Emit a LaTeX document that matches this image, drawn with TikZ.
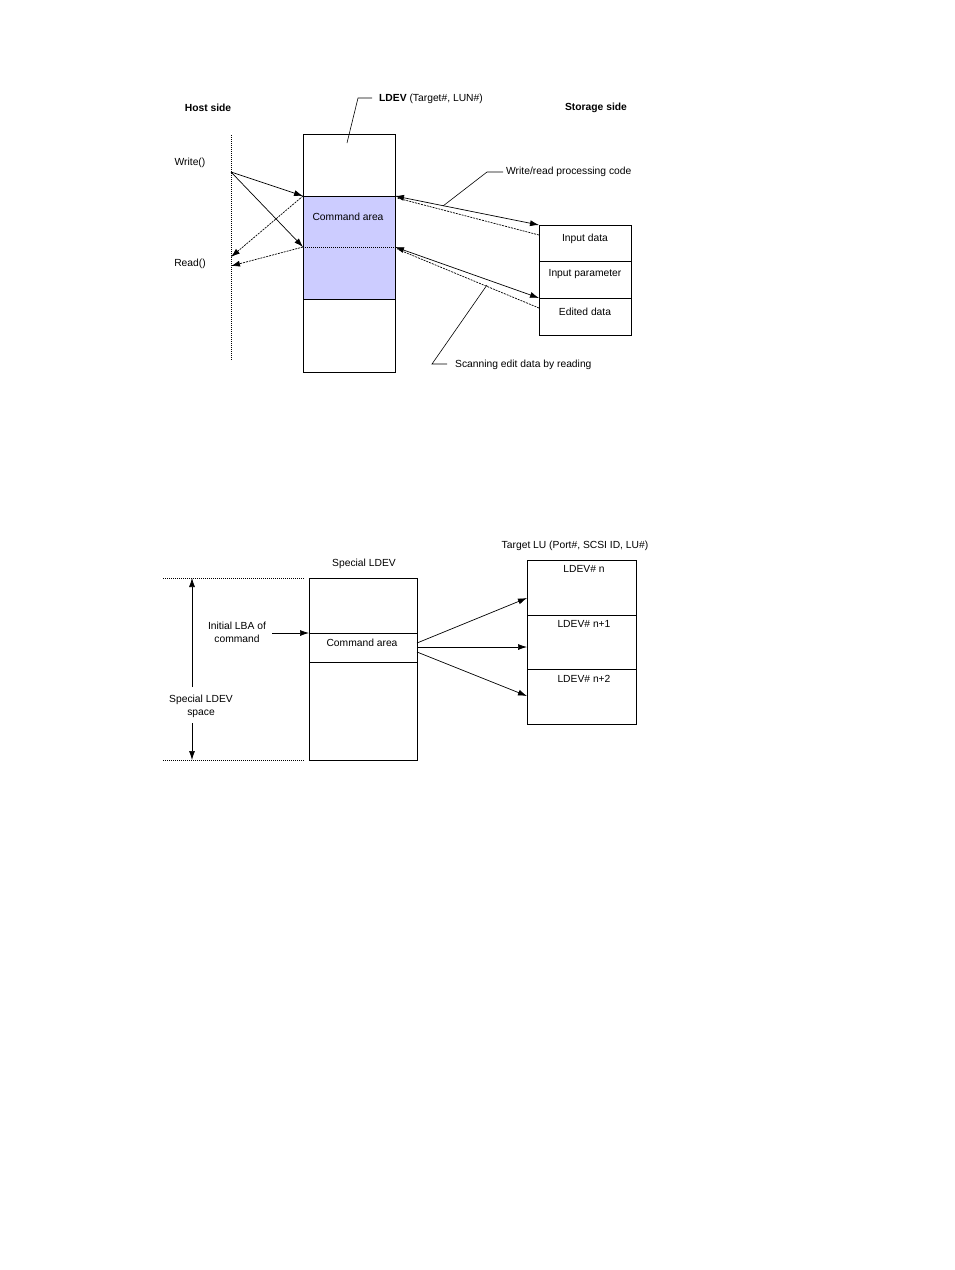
\documentclass[tikz,border=0pt]{standalone}
\usepackage{fontspec}
\setmainfont{Liberation Sans}
\usetikzlibrary{arrows.meta}
\definecolor{cmdfill}{RGB}{204,204,255}
\begin{document}
\begin{tikzpicture}[x=1pt,y=-1pt,
  lbl/.style={font=\fontsize{10.3}{13}\selectfont,inner sep=0pt,yshift=-1.5pt},
  boldlbl/.style={font=\fontsize{10.3}{13}\selectfont\bfseries,inner sep=0pt,yshift=-1.5pt},
  boxline/.style={draw=black,line width=0.8pt},
  tip/.style={-{Latex[length=9pt,width=6pt]}},
  arr/.style={line width=0.7pt,tip},
  darr/.style={line width=0.7pt,{Latex[length=9pt,width=6pt]}-{Latex[length=9pt,width=6pt]}},
  dashln/.style={line width=0.7pt,dash pattern=on 2pt off 1pt},
  dotl/.style={line width=0.7pt,dash pattern=on 1pt off 1pt},
  leader/.style={line width=0.6pt}]
\useasboundingbox (0,0) rectangle (954,1270);
\fill[white] (0,0) rectangle (954,1270);

% ---------- Top diagram ----------
\node[boldlbl] (host) at (208,106) {Host side};
\node[boldlbl] (stor) at (596,106) {Storage side};
\node[lbl,anchor=west] (ldevlbl) at (379,97) {\textbf{LDEV} (Target\#, LUN\#)};
\draw[dotl] (231,135) coordinate (hl1) -- (231,360) coordinate (hl2);
\node[lbl] (write) at (190,161) {Write()};
\node[lbl] (read) at (190,262) {Read()};

% LDEV box
\fill[cmdfill] (303,196) rectangle (395,299);
\draw[boxline] (303,134) rectangle (395,372);
\draw[boxline] (303,196) -- (395,196);
\draw[boxline] (303,299) -- (395,299);
\draw[dotl] (303,247) -- (395,247);
\node[lbl] (cmd) at (348,215) {Command area};
\coordinate (c1l) at (303,196);
\coordinate (c2l) at (303,247);
\coordinate (c1r) at (395,196);
\coordinate (c2r) at (395,247);

% leader for LDEV label
\draw[leader] (372,98) -- (358,98) -- (347,143);

% host arrows
\coordinate (wsrc) at (231,172);
\coordinate (r1) at (231,257);
\coordinate (r2) at (231,266);
\draw[arr] (wsrc) -- (c1l);
\draw[arr] (wsrc) -- (c2l);
\draw[dashln,tip] (c1l) -- (r1);
\draw[dashln,tip] (c2l) -- (r2);

% storage box
\draw[boxline] (539,225) rectangle (631,335);
\draw[boxline] (539,261) -- (631,261);
\draw[boxline] (539,298) -- (631,298);
\node[lbl] (indata) at (585,237) {Input data};
\node[lbl] (inpar) at (585,273) {Input parameter};
\node[lbl] (edata) at (585,310) {Edited data};
\coordinate (s1) at (539,225);
\coordinate (s1d) at (539,235);
\coordinate (s2) at (539,298);
\coordinate (s2d) at (539,308);

\draw[darr] (c1r) -- (s1);
\draw[dashln] (s1d) -- (397,198);
\draw[darr] (c2r) -- (s2);
\draw[dashln] (s2d) -- (397,249);

% labels with leaders
\node[lbl,anchor=west] (wrcode) at (506,170) {Write/read processing code};
\draw[leader] (503,172) -- (487,172) -- (443,206);
\node[lbl,anchor=west] (scan) at (455,363) {Scanning edit data by reading};
\draw[leader] (447,364) -- (432,364) -- (487,285);

% ---------- Bottom diagram ----------
\node[lbl] (splbl) at (364,562) {Special LDEV};
\node[lbl] (tlu) at (575,544) {Target LU (Port\#, SCSI ID, LU\#)};

\draw[dotl] (163,578) -- (305,578);
\draw[dotl] (163,760) -- (305,760);
\node[lbl,align=center] (space) at (201,705) {Special LDEV\\space};
\draw[arr] (192,687) -- (192,578);
\draw[arr] (192,723) -- (192,760);

\draw[boxline] (309,578) rectangle (417,760);
\draw[boxline] (309,633) -- (417,633);
\draw[boxline] (309,662) -- (417,662);
\node[lbl] (cmd2) at (362,641) {Command area};

\node[lbl,align=center] (ilba) at (237,631) {Initial LBA of\\command};
\draw[arr] (272,633) -- (309,633);

\draw[boxline] (527,560) rectangle (636,724);
\draw[boxline] (527,615) -- (636,615);
\draw[boxline] (527,669) -- (636,669);
\node[lbl] (ld0) at (584,567) {LDEV\# n};
\node[lbl] (ld1) at (584,622) {LDEV\# n+1};
\node[lbl] (ld2) at (584,677) {LDEV\# n+2};

\draw[arr] (417,643) -- (527,598);
\draw[arr] (417,647) -- (527,647);
\draw[arr] (417,652) -- (527,696);
\end{tikzpicture}
\end{document}
